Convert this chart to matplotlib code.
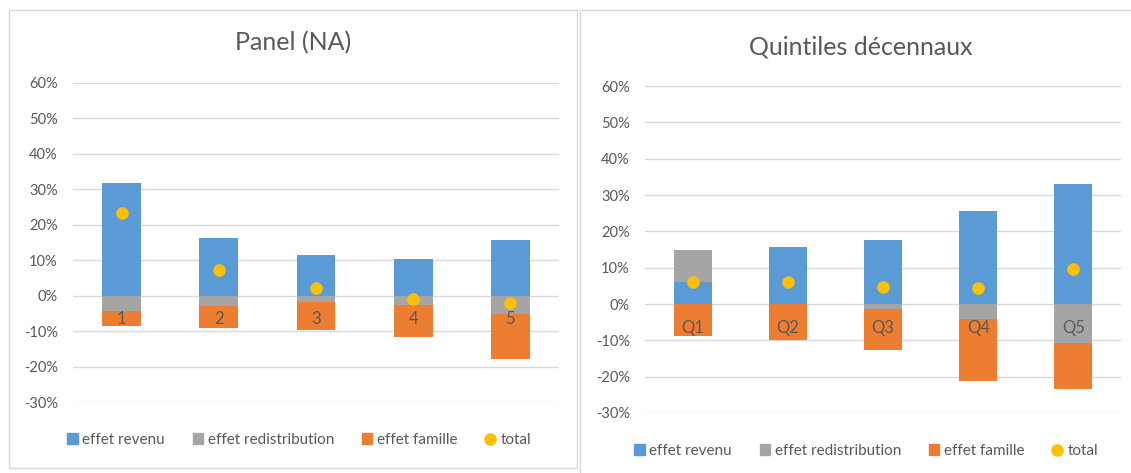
import matplotlib
matplotlib.use("Agg")
import matplotlib.pyplot as plt
from matplotlib.patches import Rectangle, Patch
from matplotlib.lines import Line2D
from matplotlib.ticker import FuncFormatter

plt.rcParams['font.family'] = ['Lato', 'DejaVu Sans']

# ---- data (percent) ----
left_title = "Panel (NA)"
left_cats = ["1", "2", "3", "4", "5"]
left_revenu = [31.7, 16.3, 11.6, 10.4, 15.8]
left_redistribution = [-4.4, -2.8, -1.7, -2.5, -5.2]
left_famille = [-4.1, -6.3, -8.0, -9.1, -12.7]
left_total = [23.3, 7.3, 2.2, -0.8, -2.1]

right_title = "Quintiles décennaux"
right_cats = ["Q1", "Q2", "Q3", "Q4", "Q5"]
right_revenu = [6.1, 15.6, 17.5, 25.7, 33.1]
right_redistribution = [8.8, 0.0, -1.5, -4.2, -10.8]
right_famille = [-8.7, -9.9, -11.1, -16.9, -12.5]
right_total = [6.1, 6.1, 4.8, 4.5, 9.7]

series_names = ["effet revenu", "effet redistribution", "effet famille", "total"]
yticks = [-30, -20, -10, 0, 10, 20, 30, 40, 50, 60]

BLUE = "#5B9BD5"
GRAY = "#A5A5A5"
ORANGE = "#ED7D31"
YELLOW = "#FFC000"
TXT = "#595959"
GRID = "#D9D9D9"

W, H = 1131, 473
fig = plt.figure(figsize=(W / 100, H / 100), dpi=100)

# panel frames
fig.patches.append(Rectangle((9 / W, 1 - 468 / H), (577 - 9) / W, (468 - 10) / H,
                             transform=fig.transFigure, fill=False, edgecolor="#D9D9D9", lw=1.0))
fig.patches.append(Rectangle((580 / W, 1 - 480 / H), (1140 - 580) / W, (480 - 10) / H,
                             transform=fig.transFigure, fill=False, edgecolor="#D9D9D9", lw=1.0))


def stack_bars(ax, revenu, redis, fam):
    """Excel-style stacked bars: positives stack up, negatives stack down."""
    n = len(revenu)
    pos = [0.0] * n
    neg = [0.0] * n
    for vals, col in ((revenu, BLUE), (redis, GRAY), (fam, ORANGE)):
        bottoms = []
        for i, v in enumerate(vals):
            if v >= 0:
                bottoms.append(pos[i])
                pos[i] += v
            else:
                bottoms.append(neg[i])
                neg[i] += v
        ax.bar(range(n), vals, bottom=bottoms, width=0.4, color=col, zorder=2)


def draw_panel(rect, title, title_xy, cats, revenu, redis, fam, total, legend_xy):
    ax = fig.add_axes(rect)
    stack_bars(ax, revenu, redis, fam)
    ax.plot(range(len(cats)), total, linestyle="none", marker="o", markersize=8,
            color=YELLOW, zorder=4)
    ax.set_xlim(-0.5, len(cats) - 0.5)
    ax.set_ylim(-30, 60)
    ax.set_yticks(yticks)
    ax.yaxis.set_major_formatter(FuncFormatter(lambda v, p: f"{int(v)}%"))
    ax.tick_params(axis="y", length=0, labelsize=10.5, labelcolor=TXT, pad=11)
    ax.set_xticks([])
    ax.grid(axis="y", color=GRID, lw=1.0, zorder=0)
    ax.set_axisbelow(True)
    for s in ax.spines.values():
        s.set_visible(False)
    for i, c in enumerate(cats):
        ax.annotate(c, xy=(i, 0), xytext=(0, -17), textcoords="offset points",
                    ha="center", va="center", fontsize=12, color=TXT, zorder=5)
    fig.text(title_xy[0], title_xy[1], title, ha="center", va="center",
             fontsize=18, color=TXT)
    handles = [Patch(color=BLUE), Patch(color=GRAY), Patch(color=ORANGE),
               Line2D([], [], linestyle="none", marker="o", markersize=8, color=YELLOW)]
    fig.legend(handles, series_names, loc="center", ncol=4, frameon=False,
               bbox_to_anchor=legend_xy,
               fontsize=11, labelcolor=TXT, handlelength=0.7, handleheight=0.7,
               handletextpad=0.3, columnspacing=1.8)
    return ax


draw_panel([73 / W, 71 / H, 486 / W, 319 / H], left_title, (293 / W, 1 - 43 / H),
           left_cats, left_revenu, left_redistribution, left_famille, left_total,
           (299 / W, 1 - 440 / H))
draw_panel([645 / W, 60 / H, 476 / W, 327 / H], right_title, (861 / W, 1 - 47 / H),
           right_cats, right_revenu, right_redistribution, right_famille, right_total,
           (866 / W, 1 - 451 / H))

fig.savefig("out.png", dpi=100, facecolor="white")
